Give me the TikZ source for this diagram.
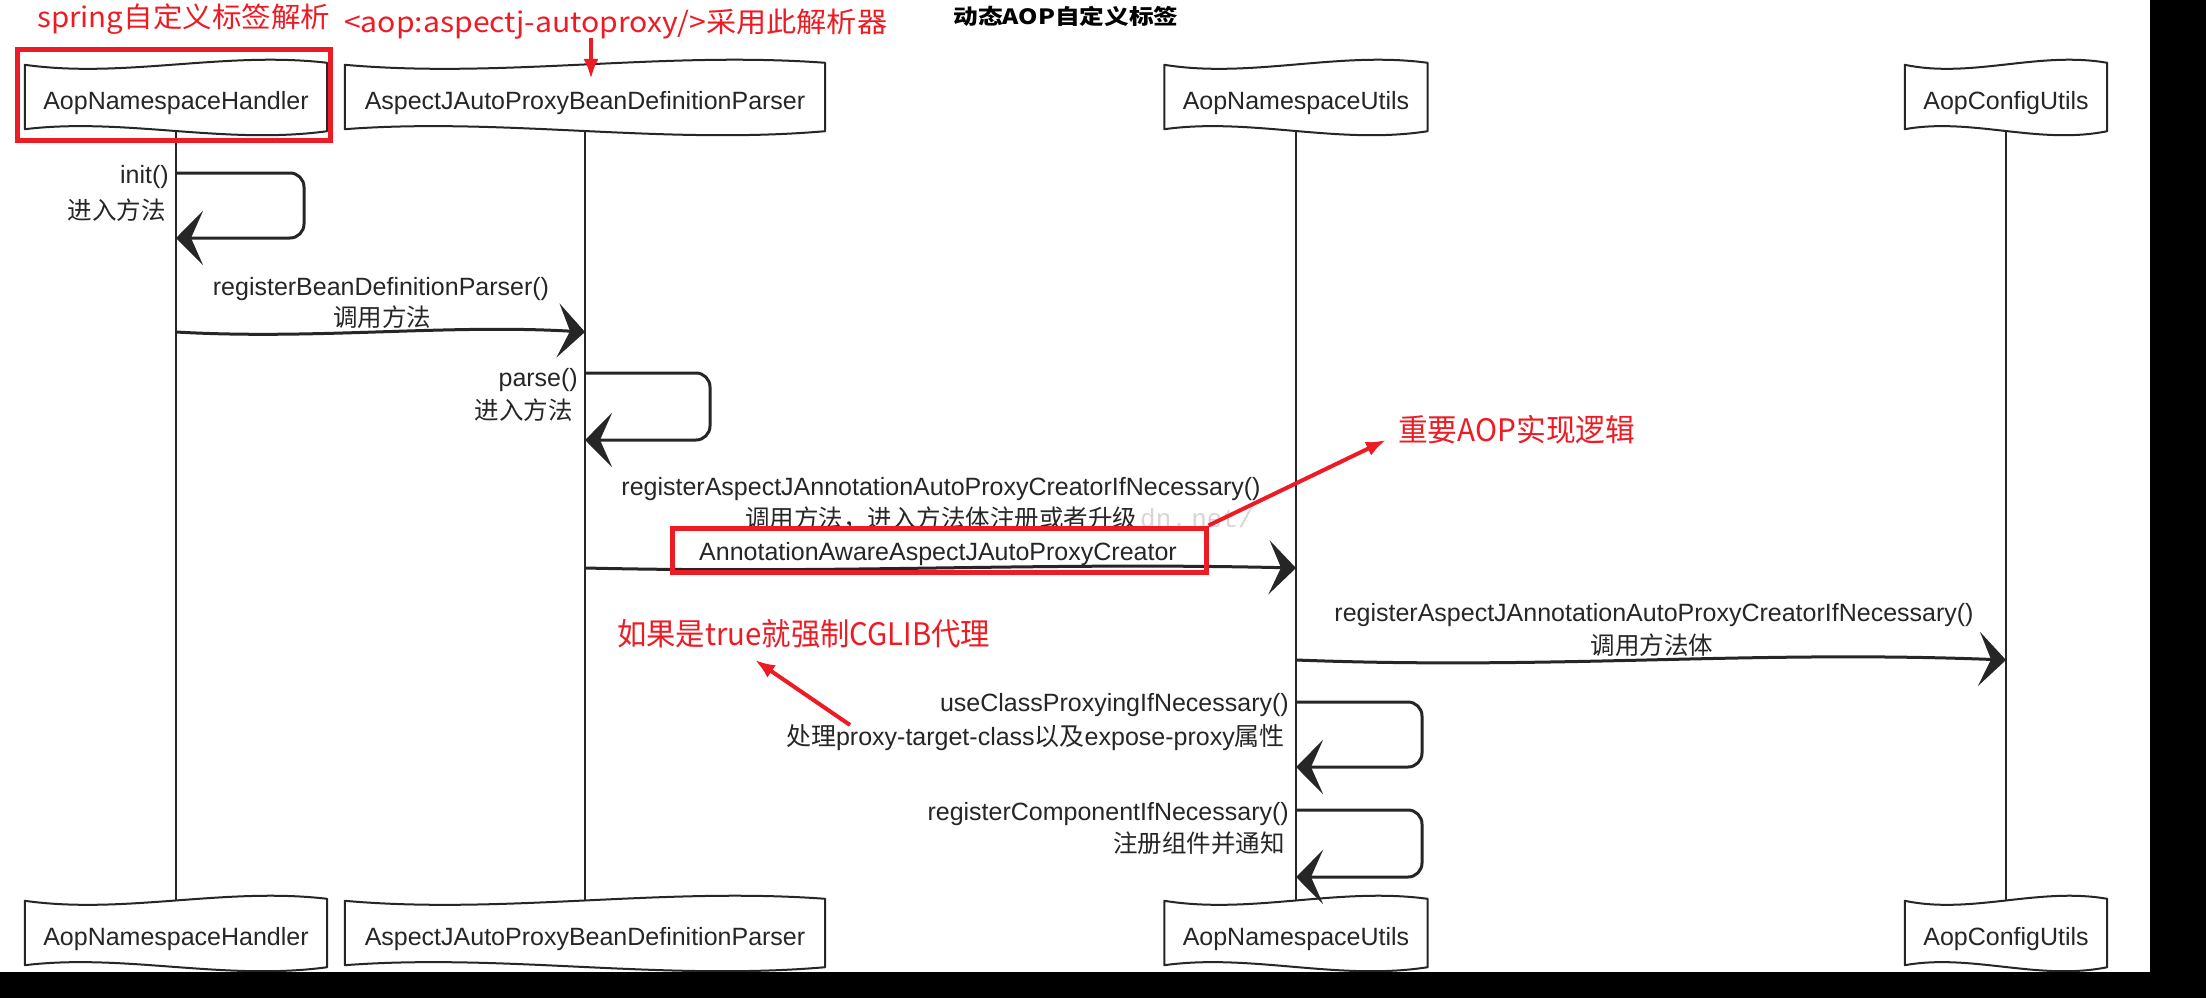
\documentclass[tikz,border=0pt]{standalone}
\usepackage{graphicx}
\usepackage{fontspec}
\setmainfont{Liberation Sans}
\newfontfamily\cjk{Noto Sans CJK SC}
\newfontfamily\wmfont{Liberation Mono}
\usetikzlibrary{arrows.meta,calc}
\definecolor{ared}{HTML}{ED1C24}
\definecolor{ink}{HTML}{262626}
\newcommand\fitw[2]{\resizebox{#1}{\height}{#2}}
\newcommand\lfont{\fontsize{25}{30}\selectfont}
\newcommand\cfont{\cjk\fontsize{24.5}{30}\selectfont}
\pgfdeclarelayer{bg}
\pgfsetlayers{bg,main}
\newcommand\wbox[1]{%
  \filldraw[boxline] (#1.north west)
    .. controls ($(#1.north west)!0.33!(#1.north east)+(0,14)$) and ($(#1.north west)!0.66!(#1.north east)+(0,-14)$) .. ([yshift=2pt]#1.north east)
    -- (#1.south east)
    .. controls ($(#1.south west)!0.66!(#1.south east)+(0,14)$) and ($(#1.south west)!0.33!(#1.south east)+(0,-14)$) .. ([yshift=2pt]#1.south west)
    -- cycle;}
\begin{document}
\begin{tikzpicture}[x=1pt,y=-1pt,
  lbox/.style={minimum height=66pt, inner sep=0pt, text height=24pt, text depth=2pt, font=\lfont, text=ink},
  boxline/.style={draw=ink, fill=white, line width=2pt, line join=round},
  life/.style={draw=ink, line width=1.5pt},
  bigtip/.style={-{Stealth[length=27pt,width=54pt,inset=12pt]}},
  msg/.style={draw=ink, line width=3pt, bigtip},
  loopl/.style={draw=ink, line width=3pt, rounded corners=14pt, bigtip},
  lab/.style={inner sep=0pt, font=\lfont, text=ink},
  clab/.style={inner sep=0pt, font=\cfont, text=ink},
  redbox/.style={draw=ared, line width=5pt, inner sep=0pt},
  rarrow/.style={draw=ared, line width=4pt, -{Latex[length=20pt,width=15pt]}},
  rtext/.style={inner sep=0pt, text=ared, anchor=base west}]
\useasboundingbox (0,0) rectangle (2206,998);

% participants
\node[lbox, minimum width=302pt] (t1) at (176,98) {AopNamespaceHandler};
\node[lbox, minimum width=480pt] (t2) at (585,98) {AspectJAutoProxyBeanDefinitionParser};
\node[lbox, minimum width=263pt] (t3) at (1296,98) {AopNamespaceUtils};
\node[lbox, minimum width=202pt] (t4) at (2006,98) {AopConfigUtils};
\node[lbox, minimum width=302pt] (b1) at (176,934) {AopNamespaceHandler};
\node[lbox, minimum width=480pt] (b2) at (585,934) {AspectJAutoProxyBeanDefinitionParser};
\node[lbox, minimum width=263pt] (b3) at (1296,934) {AopNamespaceUtils};
\node[lbox, minimum width=202pt] (b4) at (2006,934) {AopConfigUtils};

\begin{pgfonlayer}{bg}
  \fill[white] (0,0) rectangle (2206,998);
  \draw[life] (t1) -- (b1);
  \draw[life] (t2) -- (b2);
  \draw[life] (t3) -- (b3);
  \draw[life] (t4) -- (b4);
  \wbox{t1}\wbox{t2}\wbox{t3}\wbox{t4}
  \wbox{b1}\wbox{b2}\wbox{b3}\wbox{b4}
\end{pgfonlayer}

% title
\node[anchor=base, inner sep=0pt, text=black] (title) at (1066,24)
  {\fitw{225pt}{\cjk\bfseries\fontsize{21}{24}\selectfont 动态AOP自定义标签}};

% watermark fragment
\node[anchor=base west, inner sep=0pt, text=black!16, font=\wmfont\fontsize{26}{30}\selectfont] (wm) at (1140,527) {dn.\,net/};

% message anchors on lifelines
\coordinate (i1s) at (176,173); \coordinate (i1e) at (176,238);
\coordinate (m1s) at (176,332); \coordinate (m1e) at (585,332);
\coordinate (p1s) at (585,373); \coordinate (p1e) at (585,440);
\coordinate (m2s) at (585,568); \coordinate (m2e) at (1296,568);
\coordinate (m3s) at (1296,660); \coordinate (m3e) at (2006,660);
\coordinate (u1s) at (1296,702); \coordinate (u1e) at (1296,767);
\coordinate (r1s) at (1296,810); \coordinate (r1e) at (1296,877);

% messages
\draw[loopl] (i1s) -- ++(128,0) -- ++(0,65) -- (i1e);
\draw[msg] (m1s) .. controls +(140,8) and +(-140,-8) .. (m1e);
\draw[loopl] (p1s) -- ++(125,0) -- ++(0,67) -- (p1e);
\draw[msg] (m2s) .. controls +(260,6) and +(-260,-6) .. (m2e);
\draw[msg] (m3s) .. controls +(260,10) and +(-260,-10) .. (m3e);
\draw[loopl] (u1s) -- ++(126,0) -- ++(0,65) -- (u1e);
\draw[loopl] (r1s) -- ++(126,0) -- ++(0,67) -- (r1e);

% labels
\node[lab, anchor=base east] (i1a) at (169,183) {init()};
\node[clab, anchor=base east] (i1b) at (166,219) {进入方法};
\node[lab, anchor=base] (m1a) at (381,295) {registerBeanDefinitionParser()};
\node[clab, anchor=base] (m1b) at (382,326) {调用方法};
\node[lab, anchor=base east] (p1a) at (578,386) {parse()};
\node[clab, anchor=base east] (p1b) at (573,419) {进入方法};
\node[lab, anchor=base] (m2a) at (941,495) {registerAspectJAnnotationAutoProxyCreatorIfNecessary()};
\node[clab, anchor=base] (m2b) at (941,527) {调用方法，进入方法体注册或者升级};
\node[lab, anchor=base] (aac) at (938,560) {AnnotationAwareAspectJAutoProxyCreator};
\node[lab, anchor=base] (m3a) at (1654,621) {registerAspectJAnnotationAutoProxyCreatorIfNecessary()};
\node[clab, anchor=base] (m3b) at (1652,654) {调用方法体};
\node[lab, anchor=base east] (u1a) at (1289,711) {useClassProxyingIfNecessary()};
\node[lab, anchor=base east] (u1b) at (1285,745) {{\cjk 处理}proxy-target-class{\cjk 以及}expose-proxy{\cjk 属性}};
\node[lab, anchor=base east] (r1a) at (1289,820) {registerComponentIfNecessary()};
\node[clab, anchor=base east] (r1b) at (1285,852) {注册组件并通知};

% red annotations
\node[redbox, minimum width=313pt, minimum height=90pt] (rb1) at (173.5,95) {};
\node[redbox, minimum width=534pt, minimum height=44pt] (rb2) at (939,550) {};
\node[rtext] (sp) at (37,28) {\fitw{293pt}{\cjk\fontsize{28}{30}\selectfont spring自定义标签解析}};
\node[rtext] (aopx) at (344,33) {\fitw{543pt}{\cjk\fontsize{28}{30}\selectfont <aop:aspectj-autoproxy/>采用此解析器}};
\node[rtext] (imp) at (1398,441) {\fitw{237pt}{\cjk\fontsize{31}{34}\selectfont 重要AOP实现逻辑}};
\node[rtext] (cg) at (617,645) {\fitw{373pt}{\cjk\fontsize{31}{34}\selectfont 如果是true就强制CGLIB代理}};
\coordinate (ra1s) at (591,38); \coordinate (ra1e) at (591,79);
\coordinate (impt) at (1386,440);
\coordinate (cgs) at (850,725); \coordinate (cgt) at (755,660);
\draw[rarrow] (ra1s) -- (ra1e);
\draw[rarrow] (rb2.north east) -- (impt);
\draw[rarrow] (cgs) -- (cgt);

% black borders of the screenshot
\fill[black] (2150,0) rectangle (2206,998);
\fill[black] (0,972) rectangle (2206,998);
\end{tikzpicture}
\end{document}
